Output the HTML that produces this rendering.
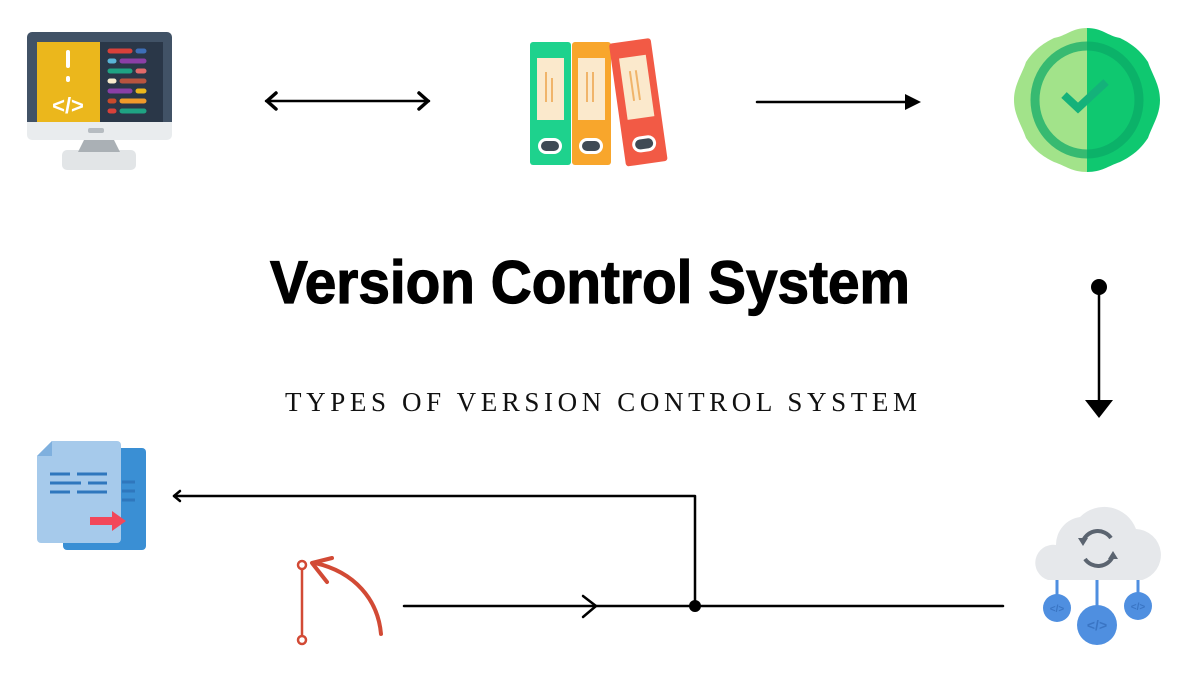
<!DOCTYPE html>
<html><head><meta charset="utf-8"><style>html,body{margin:0;padding:0;background:#fff}svg{display:block}</style></head><body>
<svg width="1200" height="674" viewBox="0 0 1200 674" xmlns="http://www.w3.org/2000/svg">
<rect width="1200" height="674" fill="#fff"/>
<!-- monitor -->
<rect x="62" y="150" width="74" height="20" rx="5" fill="#e2e5e7"/>
<polygon points="85,138 113,138 120,152 78,152" fill="#aab0b5"/>
<rect x="27" y="32" width="145" height="108" rx="5" fill="#e9ecee"/>
<path d="M32,32 h135 a5,5 0 0 1 5,5 v85 h-145 v-85 a5,5 0 0 1 5,-5z" fill="#415266"/>
<rect x="37" y="42" width="63" height="80" fill="#ebb71c"/>
<rect x="100" y="42" width="63" height="80" fill="#2a3748"/>
<rect x="88" y="128" width="16" height="5" rx="2" fill="#b6bcc1"/>
<rect x="66" y="50" width="4" height="18" rx="2" fill="#fff"/>
<rect x="66" y="76" width="4" height="6" rx="2" fill="#fff"/>
<text x="68" y="113" font-family="Liberation Sans,sans-serif" font-weight="bold" font-size="22" fill="#fff" text-anchor="middle">&lt;/&gt;</text>
<g stroke-linecap="round" stroke-width="5">
<line x1="110" y1="51" x2="130" y2="51" stroke="#d8413a"/><line x1="138" y1="51" x2="144" y2="51" stroke="#3d6fb8"/>
<line x1="110" y1="61" x2="114" y2="61" stroke="#5ab4d6"/><line x1="122" y1="61" x2="144" y2="61" stroke="#8b3fa6"/>
<line x1="110" y1="71" x2="130" y2="71" stroke="#1fa383"/><line x1="138" y1="71" x2="144" y2="71" stroke="#e26a6a"/>
<line x1="110" y1="81" x2="114" y2="81" stroke="#f7eccc"/><line x1="122" y1="81" x2="144" y2="81" stroke="#b9543f"/>
<line x1="110" y1="91" x2="130" y2="91" stroke="#8b3fa6"/><line x1="138" y1="91" x2="144" y2="91" stroke="#ebb71c"/>
<line x1="110" y1="101" x2="114" y2="101" stroke="#c84a2c"/><line x1="122" y1="101" x2="144" y2="101" stroke="#f09a2a"/>
<line x1="110" y1="111" x2="114" y2="111" stroke="#d8413a"/><line x1="122" y1="111" x2="144" y2="111" stroke="#1fa383"/>
</g>
<!-- folders -->
<rect x="530" y="42" width="41" height="123" rx="3" fill="#1ed28d"/>
<rect x="537" y="58" width="27" height="62" fill="#fbe9cc"/>
<rect x="538" y="138" width="24" height="16" rx="8" fill="#fff"/><rect x="541" y="141" width="18" height="10" rx="5" fill="#3f4a55"/>
<rect x="572" y="42" width="39" height="123" rx="3" fill="#f8a62c"/>
<rect x="578" y="58" width="27" height="62" fill="#fbe9cc"/>
<rect x="579" y="138" width="24" height="16" rx="8" fill="#fff"/><rect x="582" y="141" width="18" height="10" rx="5" fill="#3f4a55"/>
<g transform="rotate(-8 640 100)">
<rect x="617" y="40" width="42" height="124" rx="3" fill="#f25a45"/>
<rect x="625" y="56" width="27" height="62" fill="#fbe9cc"/>
<rect x="626" y="136" width="24" height="16" rx="8" fill="#fff"/><rect x="629" y="139" width="18" height="10" rx="5" fill="#3f4a55"/>
<g stroke="#f0b46a" stroke-width="2"><line x1="634" y1="70" x2="634" y2="100"/><line x1="640" y1="70" x2="640" y2="100"/></g>
</g>
<g stroke="#f0b46a" stroke-width="2"><line x1="546" y1="72" x2="546" y2="102"/><line x1="552" y1="78" x2="552" y2="102"/><line x1="587" y1="72" x2="587" y2="102"/><line x1="593" y1="72" x2="593" y2="102"/></g>
<!-- badge -->
<path d="M1087,28 C1102,28 1108,36 1120,38 C1132,44 1140,50 1148,62 C1152,74 1160,85 1160,100 C1160,115 1152,126 1148,138 C1140,150 1132,156 1120,162 C1108,166 1102,172 1087,172 Z" fill="#0fc870"/>
<path d="M1087,28 C1072,28 1066,36 1054,38 C1042,44 1034,50 1026,62 C1022,74 1014,85 1014,100 C1014,115 1022,126 1026,138 C1034,150 1042,156 1054,162 C1066,166 1072,172 1087,172 Z" fill="#a2e38a"/>
<ellipse cx="1087" cy="100" rx="52" ry="54" fill="none" stroke="#0aa866" stroke-opacity="0.7" stroke-width="9"/>
<polyline points="1064,95 1078,108 1106,82" fill="none" stroke="#14b27a" stroke-width="8"/>
<!-- doc -->
<rect x="63" y="448" width="83" height="102" rx="4" fill="#3a8fd4"/>
<path d="M52,441 h65 a4,4 0 0 1 4,4 v94 a4,4 0 0 1 -4,4 h-76 a4,4 0 0 1 -4,-4 v-83z" fill="#a6caeb"/>
<path d="M52,441 v15 h-15z" fill="#7fb0de"/>
<g stroke="#2f77bd" stroke-width="3"><line x1="50" y1="474" x2="70" y2="474"/><line x1="77" y1="474" x2="107" y2="474"/><line x1="50" y1="483" x2="81" y2="483"/><line x1="88" y1="483" x2="107" y2="483"/><line x1="50" y1="492" x2="70" y2="492"/><line x1="77" y1="492" x2="107" y2="492"/><line x1="122" y1="482" x2="135" y2="482"/><line x1="122" y1="491" x2="135" y2="491"/><line x1="122" y1="500" x2="135" y2="500"/></g>
<polygon points="90,517 112,517 112,511 126,521 112,531 112,525 90,525" fill="#f2475a"/>
<!-- red curve icon -->
<g stroke="#d24a35" stroke-width="2.5" fill="#fff"><line x1="302" y1="567" x2="302" y2="640"/><circle cx="302" cy="565" r="4"/><circle cx="302" cy="640" r="4"/></g>
<path d="M381,634 C378,600 355,572 315,563" fill="none" stroke="#d24a35" stroke-width="4" stroke-linecap="round"/>
<polyline points="327,582 312,563 332,558" fill="none" stroke="#d24a35" stroke-width="4" stroke-linecap="round" stroke-linejoin="round"/>
<!-- cloud -->
<g stroke="#4f8fe0" stroke-width="3"><line x1="1057" y1="575" x2="1057" y2="596"/><line x1="1097" y1="575" x2="1097" y2="608"/><line x1="1138" y1="575" x2="1138" y2="596"/></g>
<path d="M1048,580 a18,18 0 0 1 8,-35 a28,28 0 0 1 24,-28 a34,34 0 0 1 56,12 a26,26 0 0 1 6,51z" fill="#e6e8eb"/>
<circle cx="1057" cy="608" r="14" fill="#4f8fe0"/><circle cx="1097" cy="625" r="20" fill="#4f8fe0"/><circle cx="1138" cy="606" r="14" fill="#4f8fe0"/>
<g fill="#3a75c4" font-family="Liberation Sans,sans-serif" font-weight="bold" text-anchor="middle"><text x="1057" y="612" font-size="10">&lt;/&gt;</text><text x="1097" y="630" font-size="14">&lt;/&gt;</text><text x="1138" y="610" font-size="10">&lt;/&gt;</text></g>
<path d="M1083,541 a16,16 0 0 1 28,-3 M1113,556 a16,16 0 0 1 -28,3" fill="none" stroke="#5b6470" stroke-width="4"/>
<polygon points="1078,538 1088,538 1083,546" fill="#5b6470"/><polygon points="1118,559 1108,559 1113,551" fill="#5b6470"/>
<!-- connectors -->
<g stroke="#000" stroke-width="2.5" fill="none" stroke-linecap="round" stroke-linejoin="round">
<line x1="266" y1="101" x2="429" y2="101"/>
<polyline points="276,93 267,101 276,109" stroke-width="3.5"/><polyline points="419,93 428,101 419,109" stroke-width="3.5"/>
<line x1="757" y1="102" x2="906" y2="102"/>
<line x1="1099" y1="287" x2="1099" y2="402"/>
<line x1="404" y1="606" x2="1003" y2="606"/>
<polyline points="583,596 596,606 583,617"/>
<polyline points="695,606 695,496 174,496"/>
<polyline points="180,491 174,496 180,501"/>
</g>
<polygon points="905,94 921,102 905,110" fill="#000"/>
<circle cx="1099" cy="287" r="8" fill="#000"/>
<polygon points="1085,400 1113,400 1099,418" fill="#000"/>
<circle cx="695" cy="606" r="6" fill="#000"/>
<!-- text -->
<text x="270" y="303" font-family="Liberation Sans,sans-serif" font-weight="bold" font-size="60" textLength="640" lengthAdjust="spacingAndGlyphs" fill="#000" stroke="#000" stroke-width="1.2">Version Control System</text>
<text x="285" y="411" font-family="Liberation Serif,serif" font-size="27" textLength="632" lengthAdjust="spacing" fill="#111">TYPES OF VERSION CONTROL SYSTEM</text>
</svg>
</body></html>
